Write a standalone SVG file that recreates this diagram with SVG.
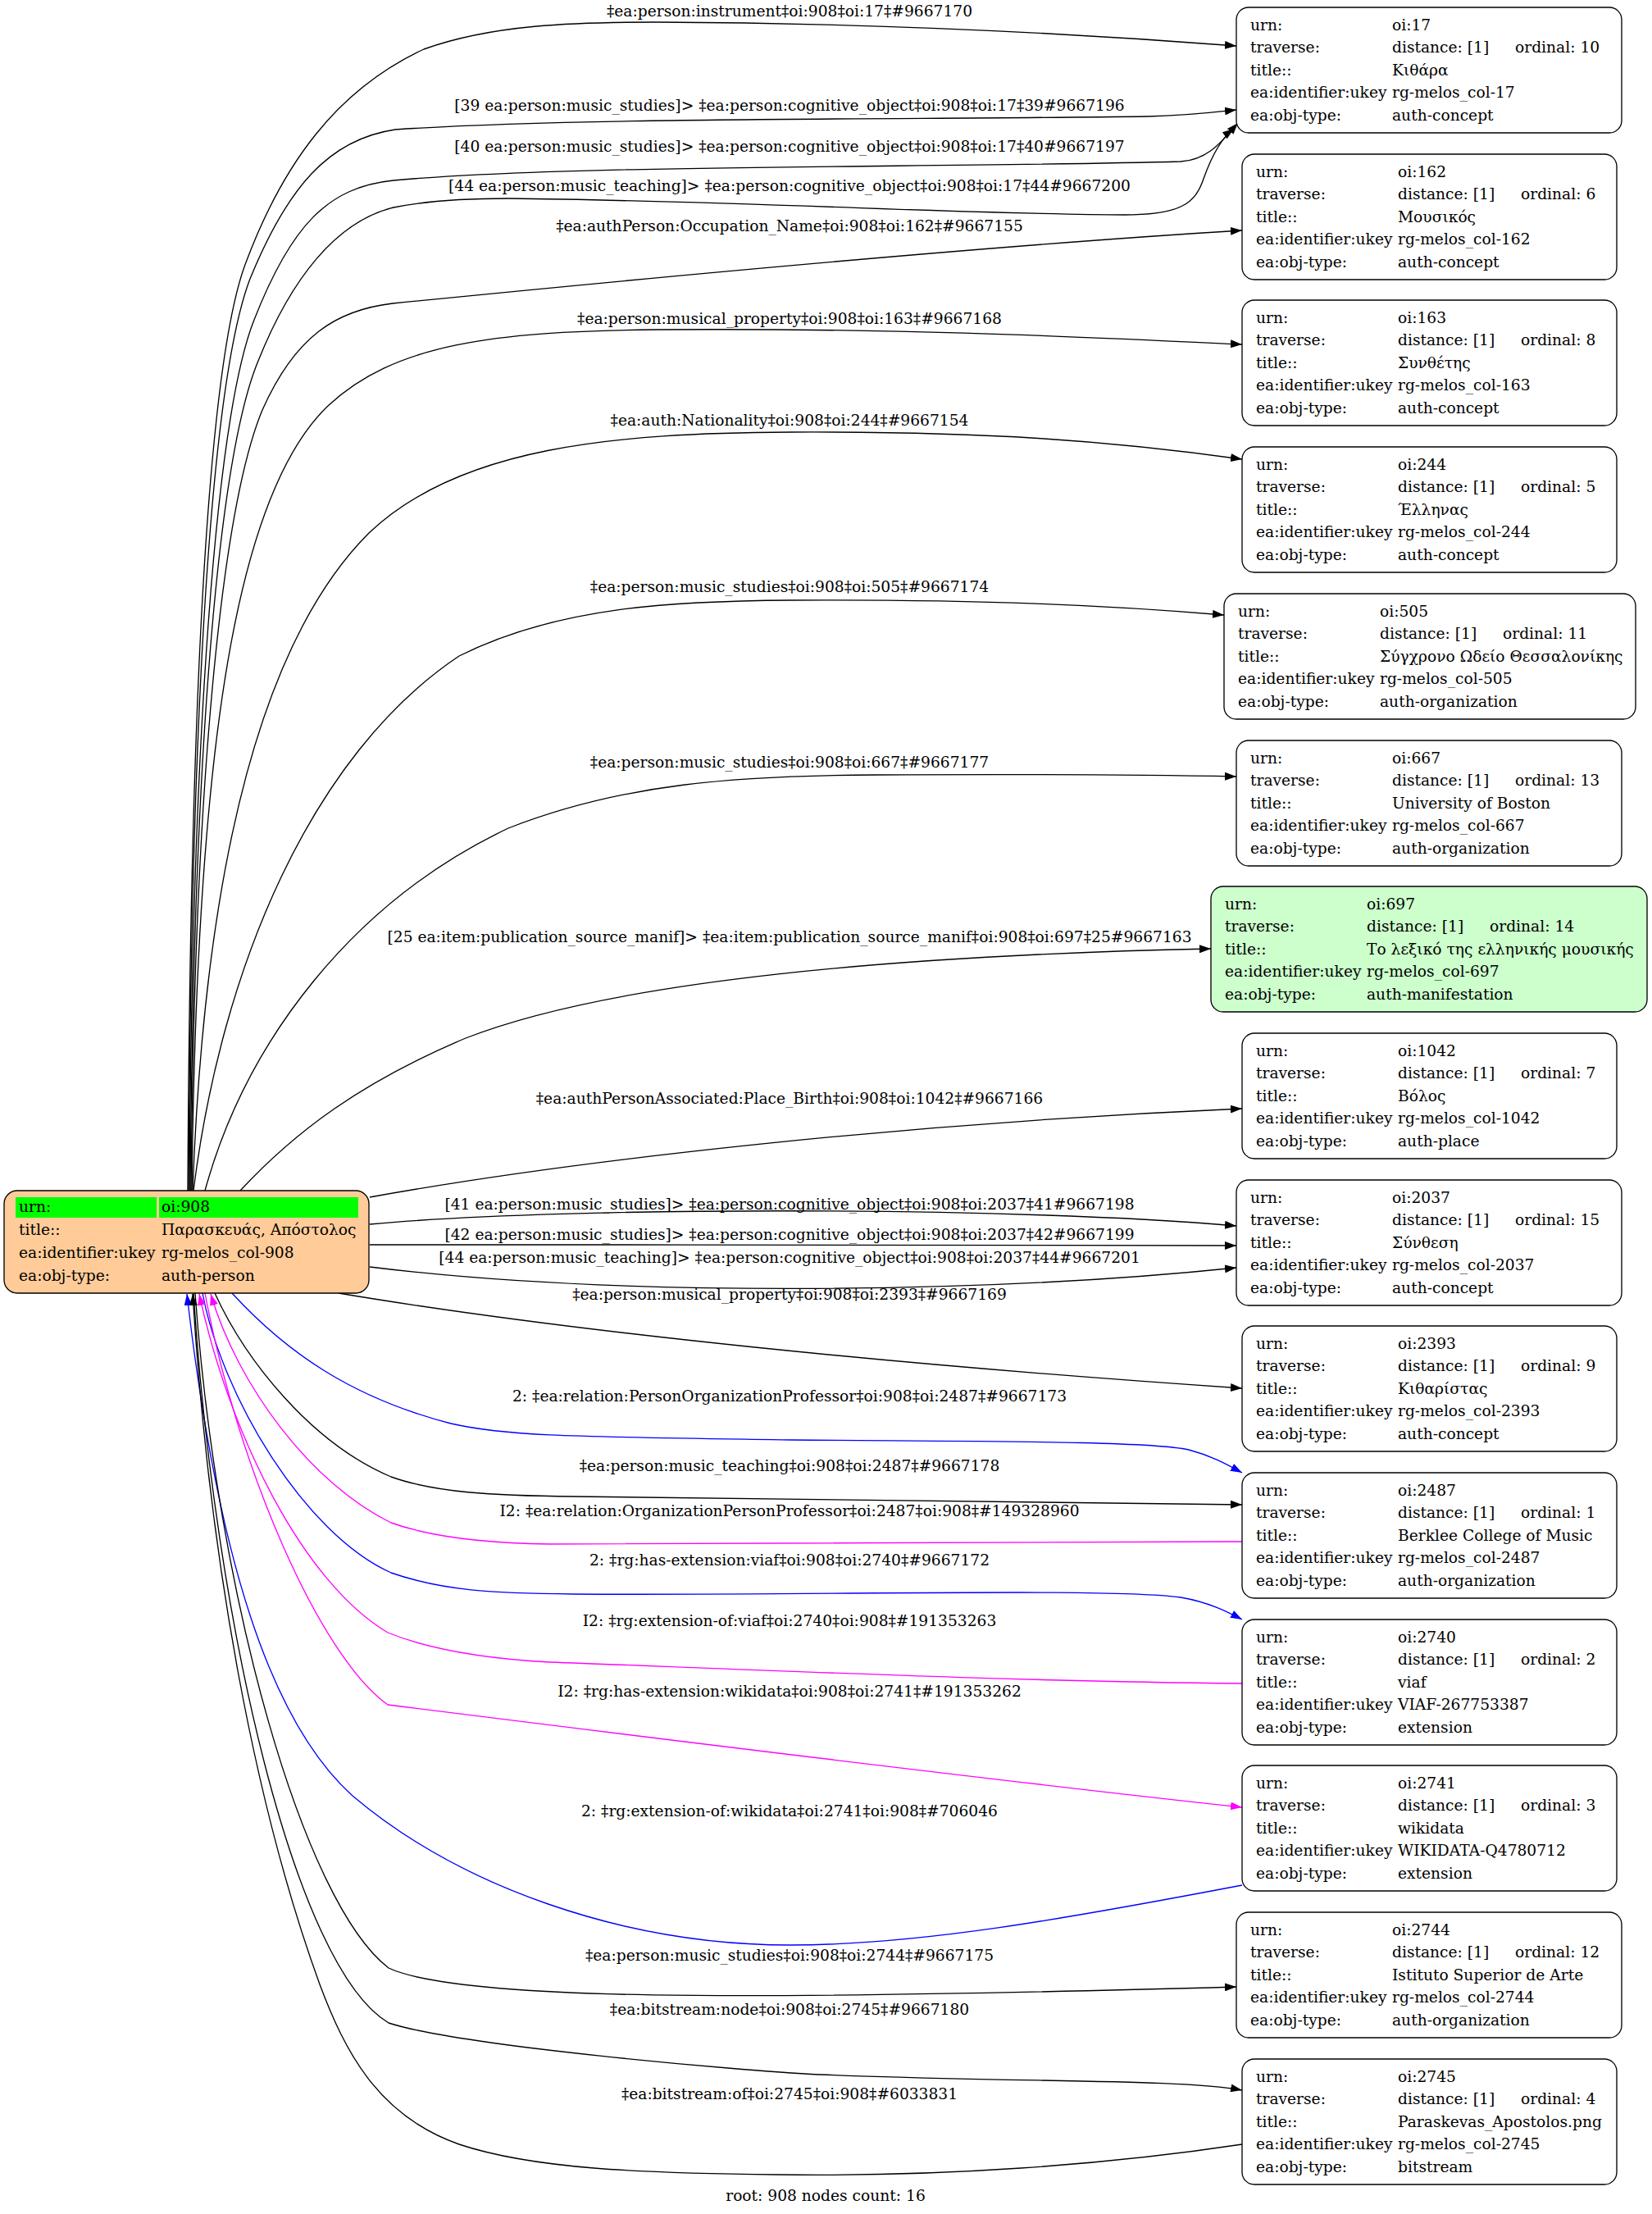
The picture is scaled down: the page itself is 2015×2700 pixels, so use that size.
<svg xmlns="http://www.w3.org/2000/svg" width="2015" height="2700" viewBox="0 0 2015 2700">
<style>
text { font-family: "DejaVu Serif", "Liberation Serif", serif; font-size: 18.67px; fill: #000; }
.lbl { text-anchor: middle; }
.box { fill: #fff; stroke: #000; stroke-width: 1.33; }
.e { fill: none; stroke-width: 1.33; }
.k { stroke: #000; marker-end: url(#ak); }
.b { stroke: #0000ff; marker-end: url(#ab); }
.m { stroke: #ff00ff; marker-end: url(#am); }
</style>
<defs>
<marker id="ak" viewBox="0 0 14 10" refX="14" refY="5" markerWidth="14" markerHeight="10" markerUnits="userSpaceOnUse" orient="auto"><path d="M0,0 L14,5 L0,10 z" fill="#000"/></marker>
<marker id="ab" viewBox="0 0 14 10" refX="14" refY="5" markerWidth="14" markerHeight="10" markerUnits="userSpaceOnUse" orient="auto"><path d="M0,0 L14,5 L0,10 z" fill="#0000ff"/></marker>
<marker id="am" viewBox="0 0 14 10" refX="14" refY="5" markerWidth="14" markerHeight="10" markerUnits="userSpaceOnUse" orient="auto"><path d="M0,0 L14,5 L0,10 z" fill="#ff00ff"/></marker>
</defs>
<rect x="0" y="0" width="2015" height="2700" fill="#fff"/>

<g id="edges">
<path class="e k" d="M229,1452 C232,900 250,450 300,320 C345,200 410,110 517,60 C600,30 700,27 800,27 C1050,28 1300,40 1508,56"/>
<path class="e k" d="M230,1452 C233,900 255,470 305,340 C350,230 400,170 482,158 C700,143 1100,146 1400,142 C1450,141 1480,137 1508,134"/>
<path class="e k" d="M231,1452 C234,920 262,510 310,390 C355,275 400,228 480,220 C700,200 1150,205 1440,197 C1475,195 1492,170 1510,150"/>
<path class="e k" d="M232,1452 C236,930 265,560 315,440 C355,340 410,270 480,253 C520,245 560,242 620,242 C900,245 1200,262 1372,262 C1440,262 1458,248 1468,218 C1478,190 1490,168 1505,157"/>
<path class="e k" d="M233,1452 C237,960 270,620 320,500 C360,410 410,378 479,370 C800,338 1200,300 1515,281"/>
<path class="e k" d="M234,1452 C240,900 290,600 400,495 C480,420 600,404 800,402 C1100,400 1300,410 1515,420"/>
<path class="e k" d="M235,1452 C250,1050 320,780 450,650 C560,545 750,528 964,527 C1200,526 1350,537 1515,560"/>
<path class="e k" d="M236,1452 C270,1180 380,920 560,800 C680,740 820,733 964,732 C1200,731 1350,738 1493,750"/>
<path class="e k" d="M250,1452 C300,1270 430,1100 620,1010 C760,955 900,946 1068,945 C1250,944 1400,945 1508,947"/>
<path class="e k" d="M293,1452 C360,1380 440,1320 568,1266 C750,1195 1100,1165 1477,1157"/>
<path class="e k" d="M451,1460 C700,1415 1100,1370 1515,1352"/>
<path class="e k" d="M451,1493 C700,1470 1250,1472 1508,1495"/>
<path class="e k" d="M451,1518 C800,1518 1200,1518 1508,1519"/>
<path class="e k" d="M451,1545 C750,1582 1200,1578 1508,1546"/>
<path class="e k" d="M413,1577 C700,1625 1100,1665 1515,1693"/>
<path class="e b" d="M283,1577 C350,1650 430,1705 550,1736 C620,1752 700,1752 964,1756 C1200,1758 1400,1757 1450,1768 C1480,1776 1500,1788 1515,1796"/>
<path class="e k" d="M262,1577 C300,1660 380,1760 477,1801 C530,1820 600,1824 700,1825 C1000,1828 1300,1830 1515,1835"/>
<path class="e m" d="M1515,1880 C1200,1880 900,1884 670,1883 C600,1882 530,1876 477,1857 C380,1810 290,1690 257,1578"/>
<path class="e b" d="M247,1577 C270,1700 370,1870 477,1918 C540,1940 600,1943 700,1944 C1000,1946 1350,1936 1440,1948 C1475,1954 1498,1966 1515,1975"/>
<path class="e m" d="M1515,2053 C1200,2050 900,2035 670,2027 C580,2022 520,2010 473,1991 C370,1930 280,1750 243,1578"/>
<path class="e m" d="M250,1577 C290,1790 390,2020 473,2079 C800,2120 1200,2170 1515,2204"/>
<path class="e b" d="M1515,2299 C1300,2340 1120,2372 964,2372 C760,2372 560,2300 430,2190 C330,2100 265,1900 228,1578"/>
<path class="e k" d="M238,1577 C265,1950 370,2320 474,2400 C560,2440 900,2440 1508,2423"/>
<path class="e k" d="M236,1577 C262,1980 360,2400 474,2467 C560,2495 900,2525 1000,2530 C1250,2540 1440,2535 1515,2549"/>
<path class="e k" d="M1515,2615 C1350,2640 1150,2655 946,2652 C780,2650 650,2645 560,2615 C460,2580 420,2500 390,2420 C310,2200 255,1900 235,1578"/>

<text class="lbl" x="963" y="20">‡ea:person:instrument‡oi:908‡oi:17‡#9667170</text>
<text class="lbl" x="963" y="135">[39 ea:person:music_studies]&gt; ‡ea:person:cognitive_object‡oi:908‡oi:17‡39#9667196</text>
<text class="lbl" x="963" y="185">[40 ea:person:music_studies]&gt; ‡ea:person:cognitive_object‡oi:908‡oi:17‡40#9667197</text>
<text class="lbl" x="963" y="233">[44 ea:person:music_teaching]&gt; ‡ea:person:cognitive_object‡oi:908‡oi:17‡44#9667200</text>
<text class="lbl" x="963" y="282">‡ea:authPerson:Occupation_Name‡oi:908‡oi:162‡#9667155</text>
<text class="lbl" x="963" y="395">‡ea:person:musical_property‡oi:908‡oi:163‡#9667168</text>
<text class="lbl" x="963" y="519">‡ea:auth:Nationality‡oi:908‡oi:244‡#9667154</text>
<text class="lbl" x="963" y="722">‡ea:person:music_studies‡oi:908‡oi:505‡#9667174</text>
<text class="lbl" x="963" y="936">‡ea:person:music_studies‡oi:908‡oi:667‡#9667177</text>
<text class="lbl" x="963" y="1149">[25 ea:item:publication_source_manif]&gt; ‡ea:item:publication_source_manif‡oi:908‡oi:697‡25#9667163</text>
<text class="lbl" x="963" y="1346">‡ea:authPersonAssociated:Place_Birth‡oi:908‡oi:1042‡#9667166</text>
<text class="lbl" x="963" y="1475">[41 ea:person:music_studies]&gt; ‡ea:person:cognitive_object‡oi:908‡oi:2037‡41#9667198</text>
<text class="lbl" x="963" y="1512">[42 ea:person:music_studies]&gt; ‡ea:person:cognitive_object‡oi:908‡oi:2037‡42#9667199</text>
<text class="lbl" x="963" y="1540">[44 ea:person:music_teaching]&gt; ‡ea:person:cognitive_object‡oi:908‡oi:2037‡44#9667201</text>
<text class="lbl" x="963" y="1585">‡ea:person:musical_property‡oi:908‡oi:2393‡#9667169</text>
<text class="lbl" x="963" y="1709">2: ‡ea:relation:PersonOrganizationProfessor‡oi:908‡oi:2487‡#9667173</text>
<text class="lbl" x="963" y="1794">‡ea:person:music_teaching‡oi:908‡oi:2487‡#9667178</text>
<text class="lbl" x="963" y="1849">I2: ‡ea:relation:OrganizationPersonProfessor‡oi:2487‡oi:908‡#149328960</text>
<text class="lbl" x="963" y="1909">2: ‡rg:has-extension:viaf‡oi:908‡oi:2740‡#9667172</text>
<text class="lbl" x="963" y="1983">I2: ‡rg:extension-of:viaf‡oi:2740‡oi:908‡#191353263</text>
<text class="lbl" x="963" y="2069">I2: ‡rg:has-extension:wikidata‡oi:908‡oi:2741‡#191353262</text>
<text class="lbl" x="963" y="2215">2: ‡rg:extension-of:wikidata‡oi:2741‡oi:908‡#706046</text>
<text class="lbl" x="963" y="2391">‡ea:person:music_studies‡oi:908‡oi:2744‡#9667175</text>
<text class="lbl" x="963" y="2457">‡ea:bitstream:node‡oi:908‡oi:2745‡#9667180</text>
<text class="lbl" x="963" y="2560">‡ea:bitstream:of‡oi:2745‡oi:908‡#6033831</text>
</g>

<g id="n908">
<rect x="5" y="1452" width="445" height="125" rx="16" fill="#ffcc99" stroke="#000" stroke-width="1.33"/>
<rect x="19" y="1460" width="172" height="25" fill="#00ff00"/>
<rect x="194" y="1460" width="243" height="25" fill="#00ff00"/>
<text x="23" y="1478">urn:</text><text x="197" y="1478">oi:908</text>
<text x="23" y="1506">title::</text><text x="197" y="1506">Παρασκευάς, Απόστολος</text>
<text x="23" y="1534">ea:identifier:ukey</text><text x="197" y="1534">rg-melos_col-908</text>
<text x="23" y="1562">ea:obj-type:</text><text x="197" y="1562">auth-person</text>
</g>

<g id="n17">
<rect class="box" x="1508" y="9" width="470" height="153" rx="15"/>
<text x="1525" y="36.5">urn:</text><text x="1698" y="36.5">oi:17</text>
<text x="1525" y="64">traverse:</text><text x="1698" y="64">distance: [1]</text><text x="1848" y="64">ordinal: 10</text>
<text x="1525" y="91.5">title::</text><text x="1698" y="91.5">Κιθάρα</text>
<text x="1525" y="119">ea:identifier:ukey</text><text x="1698" y="119">rg-melos_col-17</text>
<text x="1525" y="146.5">ea:obj-type:</text><text x="1698" y="146.5">auth-concept</text>
</g>

<g id="n162">
<rect class="box" x="1515" y="188" width="457" height="153" rx="15"/>
<text x="1532" y="215.5">urn:</text><text x="1705" y="215.5">oi:162</text>
<text x="1532" y="243">traverse:</text><text x="1705" y="243">distance: [1]</text><text x="1855" y="243">ordinal: 6</text>
<text x="1532" y="270.5">title::</text><text x="1705" y="270.5">Μουσικός</text>
<text x="1532" y="298">ea:identifier:ukey</text><text x="1705" y="298">rg-melos_col-162</text>
<text x="1532" y="325.5">ea:obj-type:</text><text x="1705" y="325.5">auth-concept</text>
</g>

<g id="n163">
<rect class="box" x="1515" y="366" width="457" height="153" rx="15"/>
<text x="1532" y="393.5">urn:</text><text x="1705" y="393.5">oi:163</text>
<text x="1532" y="421">traverse:</text><text x="1705" y="421">distance: [1]</text><text x="1855" y="421">ordinal: 8</text>
<text x="1532" y="448.5">title::</text><text x="1705" y="448.5">Συνθέτης</text>
<text x="1532" y="476">ea:identifier:ukey</text><text x="1705" y="476">rg-melos_col-163</text>
<text x="1532" y="503.5">ea:obj-type:</text><text x="1705" y="503.5">auth-concept</text>
</g>

<g id="n244">
<rect class="box" x="1515" y="545" width="457" height="153" rx="15"/>
<text x="1532" y="572.5">urn:</text><text x="1705" y="572.5">oi:244</text>
<text x="1532" y="600">traverse:</text><text x="1705" y="600">distance: [1]</text><text x="1855" y="600">ordinal: 5</text>
<text x="1532" y="627.5">title::</text><text x="1705" y="627.5">Έλληνας</text>
<text x="1532" y="655">ea:identifier:ukey</text><text x="1705" y="655">rg-melos_col-244</text>
<text x="1532" y="682.5">ea:obj-type:</text><text x="1705" y="682.5">auth-concept</text>
</g>

<g id="n505">
<rect class="box" x="1493" y="724" width="502" height="153" rx="15"/>
<text x="1510" y="751.5">urn:</text><text x="1683" y="751.5">oi:505</text>
<text x="1510" y="779">traverse:</text><text x="1683" y="779">distance: [1]</text><text x="1833" y="779">ordinal: 11</text>
<text x="1510" y="806.5">title::</text><text x="1683" y="806.5">Σύγχρονο Ωδείο Θεσσαλονίκης</text>
<text x="1510" y="834">ea:identifier:ukey</text><text x="1683" y="834">rg-melos_col-505</text>
<text x="1510" y="861.5">ea:obj-type:</text><text x="1683" y="861.5">auth-organization</text>
</g>

<g id="n667">
<rect class="box" x="1508" y="903" width="470" height="153" rx="15"/>
<text x="1525" y="930.5">urn:</text><text x="1698" y="930.5">oi:667</text>
<text x="1525" y="958">traverse:</text><text x="1698" y="958">distance: [1]</text><text x="1848" y="958">ordinal: 13</text>
<text x="1525" y="985.5">title::</text><text x="1698" y="985.5">University of Boston</text>
<text x="1525" y="1013">ea:identifier:ukey</text><text x="1698" y="1013">rg-melos_col-667</text>
<text x="1525" y="1040.5">ea:obj-type:</text><text x="1698" y="1040.5">auth-organization</text>
</g>

<g id="n697">
<rect x="1477" y="1081" width="532" height="153" rx="15" fill="#ccffcc" stroke="#000" stroke-width="1.33"/>
<text x="1494" y="1108.5">urn:</text><text x="1667" y="1108.5">oi:697</text>
<text x="1494" y="1136">traverse:</text><text x="1667" y="1136">distance: [1]</text><text x="1817" y="1136">ordinal: 14</text>
<text x="1494" y="1163.5">title::</text><text x="1667" y="1163.5">Το λεξικό της ελληνικής μουσικής</text>
<text x="1494" y="1191">ea:identifier:ukey</text><text x="1667" y="1191">rg-melos_col-697</text>
<text x="1494" y="1218.5">ea:obj-type:</text><text x="1667" y="1218.5">auth-manifestation</text>
</g>

<g id="n1042">
<rect class="box" x="1515" y="1260" width="457" height="153" rx="15"/>
<text x="1532" y="1287.5">urn:</text><text x="1705" y="1287.5">oi:1042</text>
<text x="1532" y="1315">traverse:</text><text x="1705" y="1315">distance: [1]</text><text x="1855" y="1315">ordinal: 7</text>
<text x="1532" y="1342.5">title::</text><text x="1705" y="1342.5">Βόλος</text>
<text x="1532" y="1370">ea:identifier:ukey</text><text x="1705" y="1370">rg-melos_col-1042</text>
<text x="1532" y="1397.5">ea:obj-type:</text><text x="1705" y="1397.5">auth-place</text>
</g>

<g id="n2037">
<rect class="box" x="1508" y="1439" width="470" height="153" rx="15"/>
<text x="1525" y="1466.5">urn:</text><text x="1698" y="1466.5">oi:2037</text>
<text x="1525" y="1494">traverse:</text><text x="1698" y="1494">distance: [1]</text><text x="1848" y="1494">ordinal: 15</text>
<text x="1525" y="1521.5">title::</text><text x="1698" y="1521.5">Σύνθεση</text>
<text x="1525" y="1549">ea:identifier:ukey</text><text x="1698" y="1549">rg-melos_col-2037</text>
<text x="1525" y="1576.5">ea:obj-type:</text><text x="1698" y="1576.5">auth-concept</text>
</g>

<g id="n2393">
<rect class="box" x="1515" y="1617" width="457" height="153" rx="15"/>
<text x="1532" y="1644.5">urn:</text><text x="1705" y="1644.5">oi:2393</text>
<text x="1532" y="1672">traverse:</text><text x="1705" y="1672">distance: [1]</text><text x="1855" y="1672">ordinal: 9</text>
<text x="1532" y="1699.5">title::</text><text x="1705" y="1699.5">Κιθαρίστας</text>
<text x="1532" y="1727">ea:identifier:ukey</text><text x="1705" y="1727">rg-melos_col-2393</text>
<text x="1532" y="1754.5">ea:obj-type:</text><text x="1705" y="1754.5">auth-concept</text>
</g>

<g id="n2487">
<rect class="box" x="1515" y="1796" width="457" height="153" rx="15"/>
<text x="1532" y="1823.5">urn:</text><text x="1705" y="1823.5">oi:2487</text>
<text x="1532" y="1851">traverse:</text><text x="1705" y="1851">distance: [1]</text><text x="1855" y="1851">ordinal: 1</text>
<text x="1532" y="1878.5">title::</text><text x="1705" y="1878.5">Berklee College of Music</text>
<text x="1532" y="1906">ea:identifier:ukey</text><text x="1705" y="1906">rg-melos_col-2487</text>
<text x="1532" y="1933.5">ea:obj-type:</text><text x="1705" y="1933.5">auth-organization</text>
</g>

<g id="n2740">
<rect class="box" x="1515" y="1975" width="457" height="153" rx="15"/>
<text x="1532" y="2002.5">urn:</text><text x="1705" y="2002.5">oi:2740</text>
<text x="1532" y="2030">traverse:</text><text x="1705" y="2030">distance: [1]</text><text x="1855" y="2030">ordinal: 2</text>
<text x="1532" y="2057.5">title::</text><text x="1705" y="2057.5">viaf</text>
<text x="1532" y="2085">ea:identifier:ukey</text><text x="1705" y="2085">VIAF-267753387</text>
<text x="1532" y="2112.5">ea:obj-type:</text><text x="1705" y="2112.5">extension</text>
</g>

<g id="n2741">
<rect class="box" x="1515" y="2153" width="457" height="153" rx="15"/>
<text x="1532" y="2180.5">urn:</text><text x="1705" y="2180.5">oi:2741</text>
<text x="1532" y="2208">traverse:</text><text x="1705" y="2208">distance: [1]</text><text x="1855" y="2208">ordinal: 3</text>
<text x="1532" y="2235.5">title::</text><text x="1705" y="2235.5">wikidata</text>
<text x="1532" y="2263">ea:identifier:ukey</text><text x="1705" y="2263">WIKIDATA-Q4780712</text>
<text x="1532" y="2290.5">ea:obj-type:</text><text x="1705" y="2290.5">extension</text>
</g>

<g id="n2744">
<rect class="box" x="1508" y="2332" width="470" height="153" rx="15"/>
<text x="1525" y="2359.5">urn:</text><text x="1698" y="2359.5">oi:2744</text>
<text x="1525" y="2387">traverse:</text><text x="1698" y="2387">distance: [1]</text><text x="1848" y="2387">ordinal: 12</text>
<text x="1525" y="2414.5">title::</text><text x="1698" y="2414.5">Istituto Superior de Arte</text>
<text x="1525" y="2442">ea:identifier:ukey</text><text x="1698" y="2442">rg-melos_col-2744</text>
<text x="1525" y="2469.5">ea:obj-type:</text><text x="1698" y="2469.5">auth-organization</text>
</g>

<g id="n2745">
<rect class="box" x="1515" y="2511" width="457" height="153" rx="15"/>
<text x="1532" y="2538.5">urn:</text><text x="1705" y="2538.5">oi:2745</text>
<text x="1532" y="2566">traverse:</text><text x="1705" y="2566">distance: [1]</text><text x="1855" y="2566">ordinal: 4</text>
<text x="1532" y="2593.5">title::</text><text x="1705" y="2593.5">Paraskevas_Apostolos.png</text>
<text x="1532" y="2621">ea:identifier:ukey</text><text x="1705" y="2621">rg-melos_col-2745</text>
<text x="1532" y="2648.5">ea:obj-type:</text><text x="1705" y="2648.5">bitstream</text>
</g>

<text class="lbl" x="1007" y="2684">root: 908 nodes count: 16</text>
</svg>
